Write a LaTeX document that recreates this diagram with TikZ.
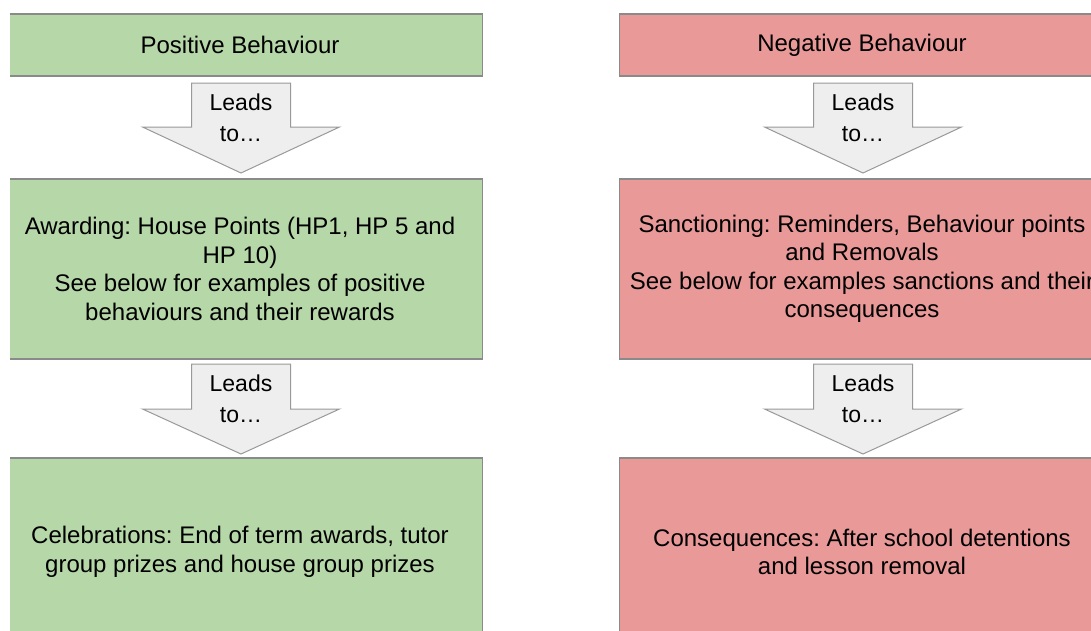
\documentclass[tikz,border=0pt]{standalone}
\usepackage{fontspec}
\setmainfont{Liberation Sans}
\frenchspacing
\definecolor{posfill}{HTML}{B6D7A8}
\definecolor{negfill}{HTML}{EA9999}
\definecolor{boxline}{HTML}{8A8A8A}
\definecolor{arrfill}{HTML}{EEEEEE}
\definecolor{arrline}{HTML}{999999}
\tikzset{
  box/.style={draw=boxline, line width=1.2pt, minimum width=485pt, inner sep=0pt,
    align=center, font=\fontsize{24}{28.5}\selectfont, text=black},
  posbox/.style={box, fill=posfill},
  negbox/.style={box, fill=negfill},
  blockarrow/.style={draw=arrline, fill=arrfill, line width=1pt, line join=miter},
  arrtext/.style={align=center, inner sep=0pt, font=\fontsize{23}{30.5}\selectfont, text=black}
}
\begin{document}
\begin{tikzpicture}[x=1pt,y=-1pt]
\useasboundingbox (0,0) rectangle (1091,630);
% boxes
\node[posbox, minimum height=62pt] (p1) at (240,45) {Positive Behaviour};
\node[posbox, minimum height=180pt] (p2) at (240,269) {Awarding: House Points (HP1, HP 5 and\\HP 10)\\See below for examples of positive\\behaviours and their rewards};
\node[posbox, minimum height=188pt] (p3) at (240,552) {Celebrations: End of term awards, tutor\\group prizes and house group prizes};
\node[negbox, minimum height=62pt] (n1) at (862,45) {Negative Behaviour};
\node[negbox, minimum height=180pt] (n2) at (862,269) {Sanctioning: Reminders, Behaviour points\\and Removals\\See below for examples sanctions and their\\consequences};
\node[negbox, minimum height=188pt] (n3) at (862,552) {Consequences: After school detentions\\and lesson removal};
% block arrows
\foreach \cx/\top/\sh/\tip/\nm/\dy in {241/83/127/173/pa1/35, 241/364/409/454/pa2/35, 863/83/127/173/na1/35, 863/364/409/454/na2/35}{
  \draw[blockarrow] (\cx-49.5,\top) -- (\cx+49.5,\top) -- (\cx+49.5,\sh) -- (\cx+98.5,\sh)
     -- (\cx,\tip) -- (\cx-98.5,\sh) -- (\cx-49.5,\sh) -- cycle;
  \node[arrtext] (\nm) at (\cx,\top+\dy) {Leads\\to…};
}
% left margin of the screenshot
\fill[white] (-5,-5) rectangle (10,640);
\end{tikzpicture}
\end{document}
